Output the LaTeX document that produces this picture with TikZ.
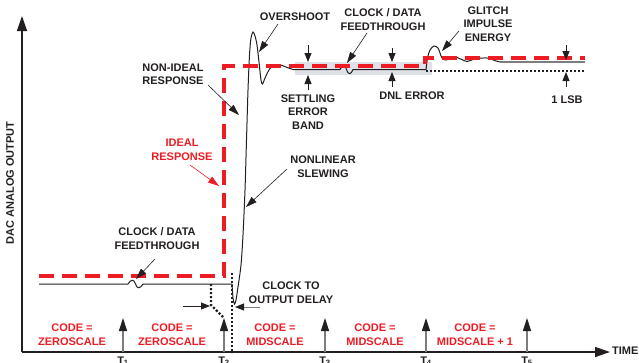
\documentclass[tikz,border=0pt]{standalone}
\usepackage{fontspec}
\setmainfont{Liberation Sans}
\usetikzlibrary{arrows.meta}
\definecolor{adred}{RGB}{237,28,36}
\definecolor{txt}{RGB}{35,31,32}
\definecolor{bandc}{RGB}{222,226,232}
\definecolor{shaftc}{RGB}{125,125,125}
\begin{document}
\begin{tikzpicture}[x=1pt,y=-1pt,
  lbl/.style={font=\fontsize{11}{13.5}\selectfont\bfseries, text=txt, align=center, inner sep=0pt},
  redlbl/.style={lbl, text=adred},
  ideal/.style={adred, line width=3.6pt, dash pattern=on 15pt off 8pt},
  resp/.style={txt, line width=1pt},
  dotln/.style={txt, line width=2.4pt, dash pattern=on 2.2pt off 1.8pt},
  axisarr/.style={txt, line width=1.4pt, -{Triangle[length=15pt,width=10pt]}},
  tickarr/.style={shaftc, line width=1.2pt, -{Triangle[length=13pt,width=8pt,color=txt]}},
  callout/.style={txt, line width=0.6pt, -{Triangle[length=11pt,width=7pt]}},
  redcallout/.style={adred, line width=0.6pt, -{Triangle[length=11pt,width=7pt]}},
  smallarr/.style={txt, line width=0.8pt, -{Triangle[length=9pt,width=7pt]}},
  grayarr/.style={shaftc, line width=1pt, -{Triangle[length=9pt,width=7pt,color=txt]}}
]
\useasboundingbox (0,0) rectangle (639,362);

% settling error band
\fill[bandc] (295,62) rectangle (432,75);

% axes
\coordinate (org) at (22,352);
\coordinate (ytop) at (22,16);
\coordinate (xend) at (610,352);
\draw[axisarr] (org) -- (ytop);
\draw[axisarr] (org) -- (xend);
\node[lbl, rotate=90] (ylab) at (10,183) {DAC ANALOG OUTPUT};
\node[lbl, anchor=west] (tlab) at (612,351) {TIME};

% clock tick arrows
\foreach \x/\n in {123/1,224/2,325/3,426/4,527/5}{
  \coordinate (tb\n) at (\x,352);
  \coordinate (tt\n) at (\x,318);
  \draw[tickarr] (tb\n) -- (tt\n);
  \node[lbl, anchor=north] (tl\n) at (\x,356.5) {T\textsubscript{\n}};
}

% dotted lines
\coordinate (d1a) at (232,273);
\coordinate (d1b) at (232,353);
\draw[dotln] (d1a) -- (d1b);
\coordinate (d2a) at (211,284);
\coordinate (d2b) at (211,305);
\coordinate (d2c) at (223,317);
\draw[dotln] (d2a) -- (d2b) -- (d2c);
\coordinate (d3a) at (426,71);
\coordinate (d3b) at (585,71);
\draw[dotln] (d3a) -- (d3b);

% non-ideal response
\draw[resp] (39,284) -- (128,284) .. controls (131,279) and (134,279) .. (135.5,284)
  .. controls (137,289) and (140,289) .. (143,284) -- (232,284);
\draw[resp] plot[smooth, tension=0.5] coordinates {
  (232,284) (233,298) (234.5,304) (236,300) (238,287) (241,265) (243,235) (245,190)
  (246.5,140) (248,90) (249.5,55) (251,38) (253,32) (255,36) (257,45) (259,62)
  (261,80) (262.5,84) (265,78) (270,68.5) (278,64.5) (286,67) (293,69.5) (300,69.5)};
\draw[resp] (300,69.5) -- (340,69.5) .. controls (343,64) and (345,64) .. (346.5,69.5)
  .. controls (348,75) and (351,75) .. (353,69.5) -- (426,69.5);
\draw[resp] plot[smooth, tension=0.5] coordinates {
  (426,70) (427.5,58) (430,50) (434,46) (438,48) (440,53) (442,58) (446,60)
  (455,57) (467,61.5) (474,59) (487,58) (496,61) (500,62)};
\draw[shaftc, line width=1.3pt] (500,62) -- (585,62);

% ideal response
\draw[ideal] (39,276) -- (224,276) -- (224,66) -- (425,66) -- (425,58) -- (585,58);

% small arrows
\draw[smallarr] (308,45) -- (308,62);
\draw[smallarr] (308,90) -- (308,75);
\draw[smallarr] (392,48) -- (392,62);
\draw[smallarr] (392,87) -- (392,72);
\draw[smallarr] (566,45) -- (566,60);
\draw[smallarr] (566,87) -- (566,72);
\draw[smallarr] (183,306) -- (210,306);
\draw[grayarr] (260,307) -- (235,307);

% labels
\node[lbl] (ovs) at (295,17) {OVERSHOOT};
\node[lbl] (cdf1) at (383,19.5) {CLOCK / DATA\\FEEDTHROUGH};
\node[lbl] (gie) at (488,24) {GLITCH\\IMPULSE\\ENERGY};
\node[lbl] (nir) at (173,74) {NON-IDEAL\\RESPONSE};
\node[redlbl] (ir) at (182,150) {IDEAL\\RESPONSE};
\node[lbl] (nls) at (323,166.5) {NONLINEAR\\SLEWING};
\node[lbl] (seb) at (308,112) {SETTLING\\ERROR\\BAND};
\node[lbl] (dnl) at (412,96) {DNL ERROR};
\node[lbl] (lsb) at (567,100) {1 LSB};
\node[lbl] (cdf2) at (157,238.5) {CLOCK / DATA\\FEEDTHROUGH};
\node[lbl] (cod) at (291,292.5) {CLOCK TO\\OUTPUT DELAY};
\node[redlbl] (c1) at (72,334.5) {CODE =\\ZEROSCALE};
\node[redlbl] (c2) at (172,334.5) {CODE =\\ZEROSCALE};
\node[redlbl] (c3) at (275,334.5) {CODE =\\MIDSCALE};
\node[redlbl] (c4) at (375,334.5) {CODE =\\MIDSCALE};
\node[redlbl] (c5) at (475,334.5) {CODE =\\MIDSCALE + 1};

% callouts
\coordinate (ovsA) at (278,24);  \coordinate (ovsT) at (259,52);
\draw[callout] (ovsA) -- (ovsT);
\coordinate (cdfA) at (367,33);  \coordinate (cdfT) at (347,63);
\draw[callout] (cdfA) -- (cdfT);
\coordinate (gieA) at (459,31);  \coordinate (gieT) at (442,51);
\draw[callout] (gieA) -- (gieT);
\coordinate (nirA) at (208,85);  \coordinate (nirT) at (239,115);
\draw[callout] (nirA) -- (nirT);
\coordinate (irA) at (190,165);  \coordinate (irT) at (219,186);
\draw[redcallout] (irA) -- (irT);
\coordinate (nlsA) at (287,169); \coordinate (nlsT) at (246,207);
\draw[callout] (nlsA) -- (nlsT);
\coordinate (cdf2A) at (155,259); \coordinate (cdf2T) at (136,279);
\draw[callout] (cdf2A) -- (cdf2T);
\end{tikzpicture}
\end{document}
